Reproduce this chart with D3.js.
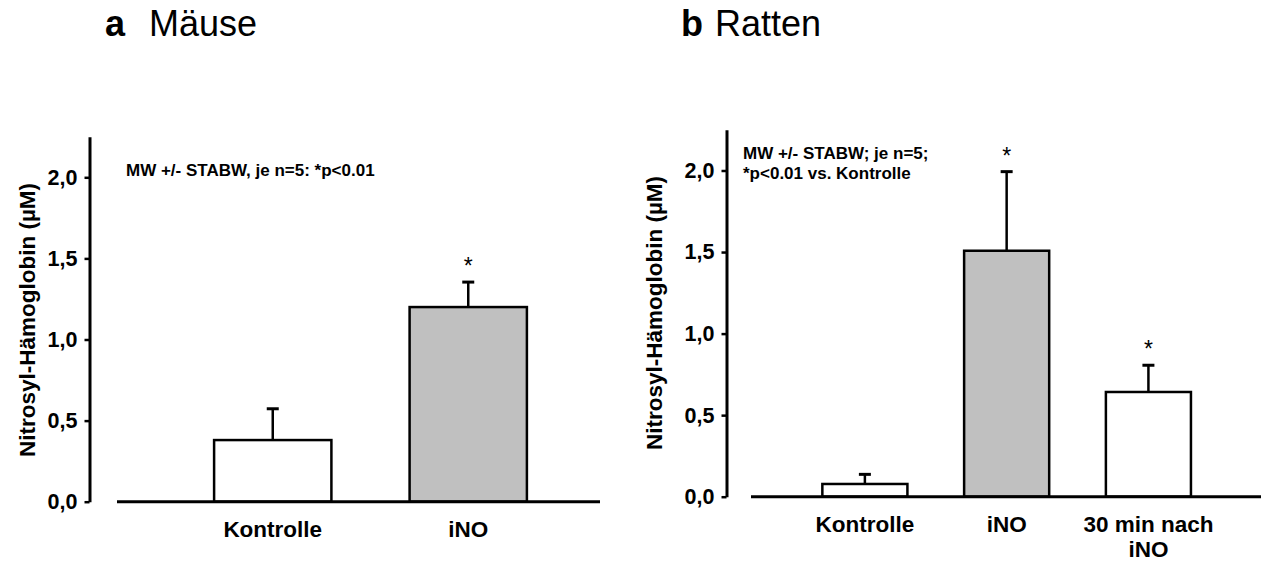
<!DOCTYPE html>
<html>
<head>
<meta charset="utf-8">
<script src="https://cdn.jsdelivr.net/npm/d3@7"></script>
<style>
  body { margin: 0; background: #fff; }
  text { font-family: Arial, "Liberation Sans", sans-serif; fill: #000; }
</style>
</head>
<body>
<div id="chart"></div>
<script>
var width = 1261;
var height = 563;

// Panel a: Mäuse
var catsA = ["Kontrolle", "iNO"];
var meansA = [0.38, 1.20];
var sdA = [0.193, 0.154];
var starA = [false, true];

// Panel b: Ratten
var catsB = ["Kontrolle", "iNO", "30 min nach iNO"];
var labelLinesB = [["Kontrolle"], ["iNO"], ["30 min nach", "iNO"]];
var meansB = [0.078, 1.508, 0.642];
var sdB = [0.059, 0.485, 0.164];
var starB = [false, true, true];

var barFill = { "Kontrolle": "#ffffff", "iNO": "#c0c0c0", "30 min nach iNO": "#ffffff" };

var yTicks = [0, 0.5, 1.0, 1.5, 2.0];
var yMax = 2.25;
var yTitle = "Nitrosyl-Hämoglobin (µM)";

var noteA = ["MW +/- STABW, je n=5: *p<0.01"];
var noteB = ["MW +/- STABW; je n=5;", "*p<0.01 vs. Kontrolle"];

var svg = d3.select("#chart")
    .append("svg")
    .attr("width", width)
    .attr("height", height);

var fmt = function (d) { return d3.format(".1f")(d).replace(".", ","); };

function drawPanel(p) {
    var g = svg.append("g");

    var y = d3.scaleLinear().domain([0, yMax]).range([p.y0, p.yTop]);
    var x = d3.scaleBand().domain(p.cats).range(p.xRange)
        .paddingInner(0.4).paddingOuter(0.2);

    // y axis
    var yAxis = d3.axisLeft(y).tickValues(yTicks).tickFormat(fmt)
        .tickSize(5).tickSizeOuter(0).tickPadding(7);
    var ax = g.append("g")
        .attr("transform", "translate(" + p.axisX + ",0)")
        .call(yAxis);
    ax.select(".domain").attr("stroke", "#000").attr("stroke-width", 3);
    ax.selectAll(".tick line").attr("stroke", "#000").attr("stroke-width", 2.5);
    ax.selectAll(".tick text")
        .style("font-size", "21.5px")
        .style("font-weight", "bold")
        .attr("fill", "#000");

    // axis title
    g.append("text")
        .attr("transform", "translate(" + p.titleX + "," + p.titleY + ") rotate(-90)")
        .attr("text-anchor", "middle")
        .style("font-size", "22.5px")
        .style("font-weight", "bold")
        .text(yTitle);

    // bars
    g.selectAll("rect.bar")
        .data(p.cats)
        .enter()
        .append("rect")
        .attr("class", "bar")
        .attr("x", function (d) { return x(d); })
        .attr("width", x.bandwidth())
        .attr("y", function (d, i) { return y(p.means[i]); })
        .attr("height", function (d, i) { return y(0) - y(p.means[i]); })
        .style("fill", function (d) { return barFill[d]; })
        .style("stroke", "#000")
        .style("stroke-width", 2.5);

    // error bars (upper only)
    var cx = function (d) { return x(d) + x.bandwidth() / 2; };
    g.selectAll("line.err")
        .data(p.cats)
        .enter()
        .append("line")
        .attr("x1", cx).attr("x2", cx)
        .attr("y1", function (d, i) { return y(p.means[i]); })
        .attr("y2", function (d, i) { return y(p.means[i] + p.sd[i]); })
        .style("stroke", "#000")
        .style("stroke-width", 2.5);
    g.selectAll("line.cap")
        .data(p.cats)
        .enter()
        .append("line")
        .attr("x1", function (d) { return cx(d) - 6; })
        .attr("x2", function (d) { return cx(d) + 6; })
        .attr("y1", function (d, i) { return y(p.means[i] + p.sd[i]); })
        .attr("y2", function (d, i) { return y(p.means[i] + p.sd[i]); })
        .style("stroke", "#000")
        .style("stroke-width", 3);

    // significance stars
    g.selectAll("text.star")
        .data(p.cats.filter(function (d, i) { return p.stars[i]; }))
        .enter()
        .append("text")
        .attr("x", cx)
        .attr("y", function (d) {
            var i = p.cats.indexOf(d);
            return y(p.means[i] + p.sd[i]) - 8;
        })
        .attr("text-anchor", "middle")
        .style("font-size", "23px")
        .text("*");

    // baseline
    g.append("line")
        .attr("x1", p.baseX[0]).attr("x2", p.baseX[1])
        .attr("y1", y(0)).attr("y2", y(0))
        .style("stroke", "#000")
        .style("stroke-width", 3);

    // category labels
    g.selectAll("text.cat")
        .data(p.cats)
        .enter()
        .append("text")
        .attr("x", cx)
        .attr("y", y(0) + 35)
        .attr("text-anchor", "middle")
        .style("font-size", "22.5px")
        .style("font-weight", "bold")
        .each(function (d, i) {
            var lines = p.labels[i];
            var t = d3.select(this);
            lines.forEach(function (l, k) {
                t.append("tspan").attr("x", cx(d)).attr("dy", k === 0 ? 0 : 25).text(l);
            });
        });

    // note
    g.selectAll("text.note")
        .data(p.note)
        .enter()
        .append("text")
        .attr("x", p.noteX)
        .attr("y", function (d, i) { return p.noteY + i * 20; })
        .style("font-size", "17px")
        .style("font-weight", "bold")
        .text(function (d) { return d; });

    // panel heading
    var h = g.append("text")
        .attr("x", p.headX)
        .attr("y", 36)
        .style("font-size", "36px");
    h.append("tspan").style("font-weight", "bold").text(p.letter);
    h.append("tspan").attr("x", p.headX + p.headGap).text(p.headName);
}

drawPanel({
    cats: catsA, labels: catsA.map(function (c) { return [c]; }),
    means: meansA, sd: sdA, stars: starA,
    y0: 501.7, yTop: 501.7 - 162.2 * yMax,
    xRange: [175, 566], axisX: 89.5, baseX: [117, 600],
    titleX: 35, titleY: 320,
    note: noteA, noteX: 126, noteY: 176,
    headX: 105, headGap: 44, letter: "a", headName: "Mäuse"
});

drawPanel({
    cats: catsB, labels: labelLinesB,
    means: meansB, sd: sdB, stars: starB,
    y0: 496.7, yTop: 496.7 - 163.1 * yMax,
    xRange: [794, 1219.3], axisX: 726.5, baseX: [751, 1261],
    titleX: 662, titleY: 313,
    note: noteB, noteX: 743, noteY: 159,
    headX: 681, headGap: 34, letter: "b", headName: "Ratten"
});
</script>
</body>
</html>
